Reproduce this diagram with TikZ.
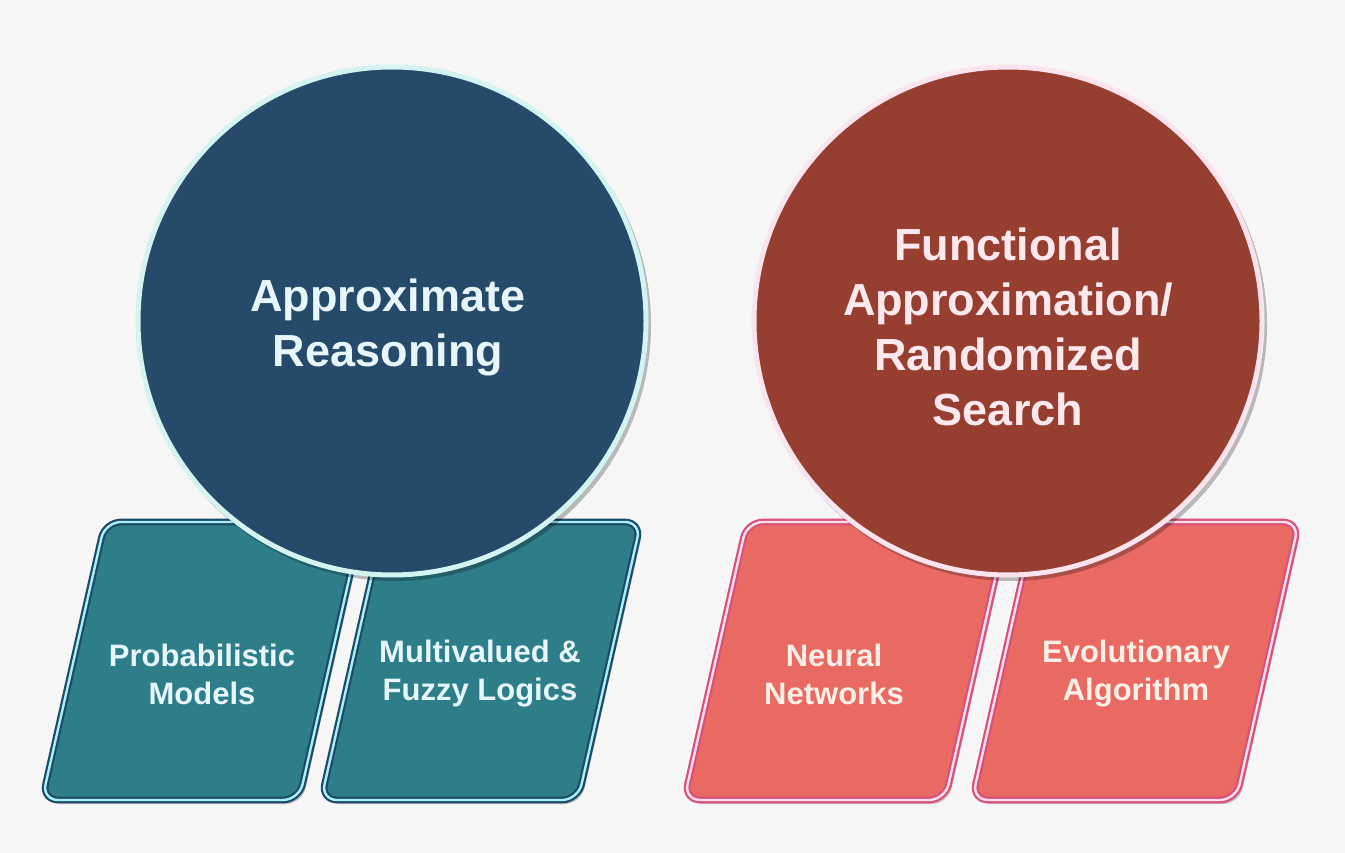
\documentclass[tikz,border=0pt]{standalone}
\usepackage{fontspec}
\setmainfont{Liberation Sans}
\definecolor{bg}{HTML}{F6F6F6}
\definecolor{navyfill}{HTML}{264A6A}
\definecolor{navytext}{HTML}{E6F6FA}
\definecolor{tealfill}{HTML}{2E7E8A}
\definecolor{tealedge}{HTML}{1E4A6A}
\definecolor{tealline}{HTML}{A8F0F4}
\definecolor{navyring}{HTML}{D4F4F2}
\definecolor{brickfill}{HTML}{963E30}
\definecolor{bricktext}{HTML}{FDE8EE}
\definecolor{coralfill}{HTML}{E86A62}
\definecolor{coraledge}{HTML}{D9507A}
\definecolor{coralline}{HTML}{FFE0EA}
\definecolor{brickring}{HTML}{FBE4EE}
\definecolor{coraltext}{HTML}{FCEFE6}
\begin{document}
\begin{tikzpicture}[x=1pt,y=-1pt,
  shadowbox/.style={fill=black,opacity=0.22,rounded corners=16pt},
  bluebox/.style={fill=tealfill,draw=tealedge,double=tealline,line width=2.2pt,double distance=2.4pt,rounded corners=16pt},
  redbox/.style={fill=coralfill,draw=coraledge,double=coralline,line width=2.2pt,double distance=2.4pt,rounded corners=16pt},
  bigcircle/.style={circle,minimum size=508pt,inner sep=0pt,line width=5pt},
  bigtext/.style={font=\bfseries\fontsize{45}{55}\selectfont,align=center,inner sep=0pt},
  boxtext/.style={font=\bfseries\fontsize{31}{38}\selectfont,align=center,inner sep=0pt}]
\useasboundingbox[fill=bg] (0,0) rectangle (1345,853);
% shadows
\fill[shadowbox] (108,526) -- (365,526) -- (302,804) -- (45,804) -- cycle;
\fill[shadowbox] (387,526) -- (644,526) -- (581,804) -- (324,804) -- cycle;
\fill[shadowbox] (750,526) -- (1011,526) -- (948,804) -- (687,804) -- cycle;
\fill[shadowbox] (1038,526) -- (1302,526) -- (1239,804) -- (975,804) -- cycle;
% boxes
\draw[bluebox] (105,522) -- (362,522) -- (299,800) -- (42,800) -- cycle;
\draw[bluebox] (384,522) -- (641,522) -- (578,800) -- (321,800) -- cycle;
\draw[redbox] (747,522) -- (1008,522) -- (945,800) -- (684,800) -- cycle;
\draw[redbox] (1035,522) -- (1299,522) -- (1236,800) -- (972,800) -- cycle;
\node[boxtext,text=navytext] (prob) at (202,674) {Probabilistic\\Models};
\node[boxtext,text=navytext] (fuzzy) at (480,674) {Multivalued \&\\Fuzzy Logics};
\node[boxtext,text=coraltext] (neural) at (834,674) {Neural\\Networks};
\node[boxtext,text=coraltext] (evo) at (1136,674) {Evolutionary\\Algorithm};
% circles
\fill[black,opacity=0.25] (395,325) circle (256pt);
\fill[black,opacity=0.25] (1011,325) circle (256pt);
\node[bigcircle,fill=navyfill,draw=navyring] (approx) at (392,321) {};
\node[bigcircle,fill=brickfill,draw=brickring] (func) at (1008,321) {};
\node[bigtext,text=navytext] (approxtext) at (388,327) {Approximate\\Reasoning};
\node[bigtext,text=bricktext] (functext) at (1008,327) {Functional\\Approximation/\\Randomized\\Search};
\end{tikzpicture}
\end{document}
